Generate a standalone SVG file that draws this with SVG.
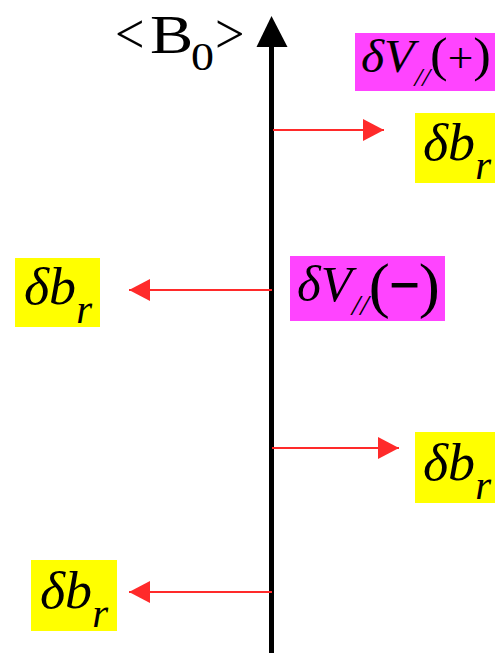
<svg xmlns="http://www.w3.org/2000/svg" width="495" height="653" viewBox="0 0 495 653">
<style>
text{font-family:"Liberation Serif","Times New Roman",serif;fill:#000}
.i{font-style:italic}
.n{font-style:normal}
.yb{fill:#ffff00}
.mb{fill:#ff44ff}
.c{stroke:#ff2a2a;stroke-width:2;fill:none}
.br{font-size:53px;font-style:italic}
.br tspan{font-size:40px}
</style>
<defs>
<marker id="ah" markerUnits="userSpaceOnUse" markerWidth="22" markerHeight="22" refX="21" refY="11" orient="auto">
<path d="M0,0 L21,11 L0,22 Z" fill="#ff2a2a"/>
</marker>
</defs>
<g id="axis">
<line x1="271.5" y1="653" x2="271.5" y2="44" stroke="#000" stroke-width="5"/>
<path d="M256.5,47 L271.5,16 L287.5,47 Z" fill="#000"/>
<text font-size="58" transform="translate(115,53) scale(0.9,1)">&lt;</text>
<text font-size="54" transform="translate(150,53) scale(1.2,1)">B</text>
<text font-size="40" transform="translate(191,70) scale(1.15,1)">0</text>
<text font-size="58" transform="translate(215,53) scale(0.9,1)">&gt;</text>
</g>
<g id="connectors">
<line class="c" x1="273" y1="130" x2="384" y2="130" marker-end="url(#ah)"/>
<line class="c" x1="272" y1="290" x2="129" y2="290" marker-end="url(#ah)"/>
<line class="c" x1="272" y1="448" x2="399" y2="448" marker-end="url(#ah)"/>
<line class="c" x1="272" y1="592" x2="129" y2="592" marker-end="url(#ah)"/>
</g>
<g id="vpar-plus">
<rect class="mb" x="355" y="33" width="140" height="58"/>
<text font-size="46" transform="translate(361,72) scale(1.08,1)"><tspan class="i">δV</tspan><tspan class="i" dy="14" font-size="26">//</tspan><tspan class="n" dy="-15" font-size="49">(</tspan><tspan class="n" dy="1" font-size="42">+</tspan><tspan class="n" dy="-1" font-size="49">)</tspan></text>
</g>
<g id="br1">
<rect class="yb" x="415" y="113" width="80" height="70"/>
<text class="br" transform="translate(423,160) scale(1.02,1)">δb<tspan dy="19">r</tspan></text>
</g>
<g id="vpar-minus">
<rect class="mb" x="290" y="256" width="155" height="65"/>
<text font-size="50" transform="translate(297,301) scale(1.02,1)"><tspan class="i">δV</tspan><tspan class="i" dy="14" font-size="30">//</tspan><tspan class="n" dy="-9" font-size="62">(</tspan><tspan class="n" dy="-4" font-size="50" stroke="#000" stroke-width="2">−</tspan><tspan class="n" dy="4" font-size="62">)</tspan></text>
</g>
<g id="br2">
<rect class="yb" x="15" y="258" width="85" height="69"/>
<text class="br" transform="translate(24,304) scale(1.02,1)">δb<tspan dy="19">r</tspan></text>
</g>
<g id="br3">
<rect class="yb" x="415" y="432" width="80" height="71"/>
<text class="br" transform="translate(423,480) scale(1.02,1)">δb<tspan dy="19">r</tspan></text>
</g>
<g id="br4">
<rect class="yb" x="31" y="560" width="86" height="71"/>
<text class="br" transform="translate(40,608) scale(1.02,1)">δb<tspan dy="19">r</tspan></text>
</g>
</svg>
